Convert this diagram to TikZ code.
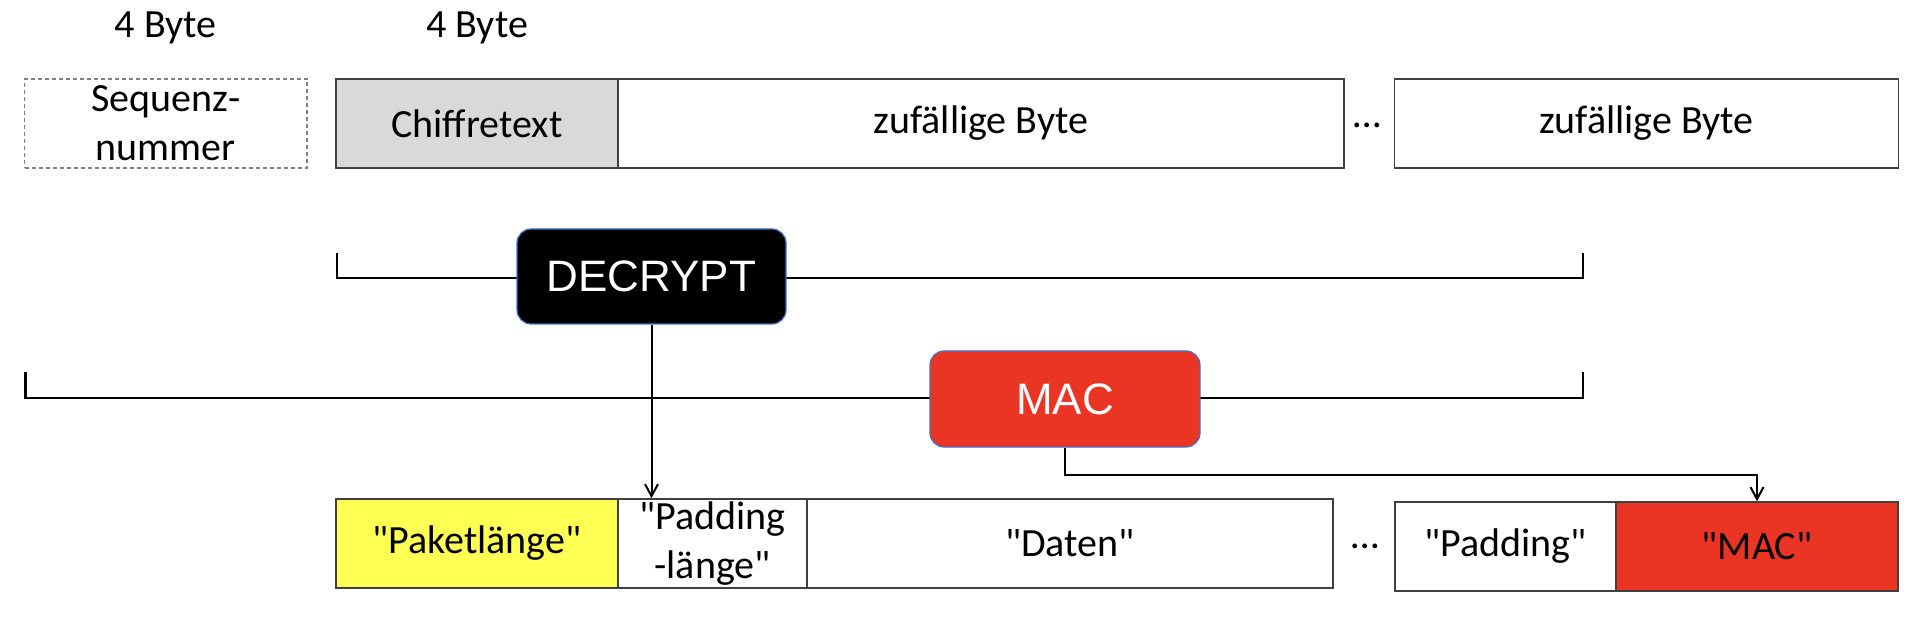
\documentclass[tikz,border=0pt]{standalone}
\usepackage{fontspec}
\setmainfont{Carlito}[Ligatures=TeXOff]
\newfontfamily\arialf{Liberation Sans}
\usetikzlibrary{arrows.meta,calc}
\definecolor{boxgray}{HTML}{D9D9D9}
\definecolor{myyellow}{HTML}{FFFF54}
\definecolor{myred}{HTML}{EA3525}
\definecolor{borderblue}{HTML}{4472C4}
\definecolor{edgegray}{HTML}{404040}
\begin{document}
\begin{tikzpicture}[x=0.5pt,y=-0.5pt,
  field/.style={draw=edgegray, line width=0.8pt, minimum height=44.5pt, inner sep=0pt,
                font=\fontsize{20}{24.4}\selectfont, align=center},
  dashfield/.style={field, draw=gray, dashed, dash pattern=on 2pt off 1.5pt},
  opbox/.style={rounded corners=7pt, draw=borderblue, line width=0.6pt, inner sep=0pt,
                text=white, font=\arialf\fontsize{22}{26}\selectfont},
  bracketline/.style={line width=1.1pt, black},
  arr/.style={-{Straight Barb[length=6pt,width=6.5pt]}, line width=1pt},
  lbl/.style={font=\fontsize{20}{24}\selectfont, inner sep=0pt}
]
\useasboundingbox (0,0) rectangle (1918,620);

% top row
\node[lbl] (b1) at (165.75,28) {4 Byte};
\node[lbl] (b2) at (477,28) {4 Byte};
\node[dashfield, minimum width=141.25pt] (seq) at (165.75,123.5) {Sequenz-\\nummer};
\node[field, fill=boxgray, minimum width=141pt] (chiff) at (477,123.5) {Chiffretext};
\node[field, minimum width=363pt] (zuf1) at (981,123.5) {zufällige Byte};
\node[lbl, anchor=base] (dots1) at (1367,128) {…};
\node[field, minimum width=252pt] (zuf2) at (1646.5,123.5) {zufällige Byte};

% bottom row
\node[field, fill=myyellow, minimum width=141pt] (pak) at (477,543.5) {"Paketlänge"};
\node[field, minimum width=94.5pt] (padl) at (712.5,543.5) {"Padding\\-länge"};
\node[field, minimum width=263pt] (daten) at (1070,543.5) {"Daten"};
\node[lbl, anchor=base] (dots2) at (1365,548) {…};
\node[field, minimum width=110.5pt] (padd) at (1505.5,546.5) {"Padding"};
\node[field, fill=myred, minimum width=141pt] (macf) at (1757,546.5) {"MAC"};

% brackets
\coordinate (d1) at (337,253);
\coordinate (d2) at (337,278);
\coordinate (d3) at (1583,278);
\coordinate (d4) at (1583,253);
\draw[bracketline] (d1) -- (d2) -- (d3) -- (d4);
\coordinate (m1) at (25.5,372);
\coordinate (m2) at (25.5,398);
\coordinate (m3) at (1583,398);
\coordinate (m4) at (1583,372);
\draw[bracketline] (m1) -- (m2) -- (m3) -- (m4);

% operation boxes
\node[opbox, fill=black, minimum width=134.5pt, minimum height=47.5pt] (dec) at (651.5,276.5) {DECRYPT};
\node[opbox, fill=myred, minimum width=135pt, minimum height=48pt] (mac) at (1065,399) {MAC};

% arrows
\draw[arr] (dec.south) -- (dec.south |- padl.north);
\draw[arr] (mac.south) -- ++(0,27) -| (macf.north);
\end{tikzpicture}
\end{document}
